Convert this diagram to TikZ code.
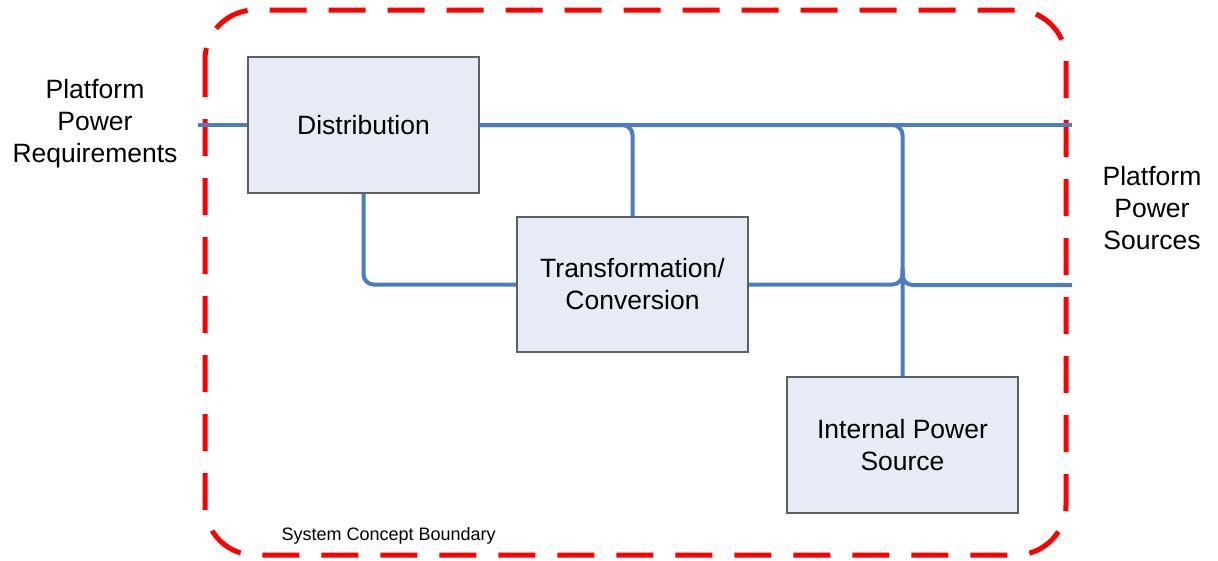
\documentclass[tikz,border=0pt]{standalone}
\usepackage{fontspec}
\setmainfont{Liberation Sans}
\begin{document}
\begin{tikzpicture}[x=1pt,y=-1pt,
  blk/.style={draw={rgb,255:red,95;green,95;blue,95}, line width=1.4pt, fill={rgb,255:red,230;green,235;blue,245},
    minimum width=231pt, minimum height=136pt, inner sep=0pt, align=center,
    font=\fontsize{26.5}{32}\selectfont},
  wire/.style={draw={rgb,255:red,74;green,125;blue,193}, line width=4pt},
  lbl/.style={align=center, font=\fontsize{26.5}{32}\selectfont},
  bnd/.style={draw={rgb,255:red,255;green,0;blue,0}, line width=5pt, dash pattern=on 37pt off 22pt, rounded corners=50pt}]
\useasboundingbox (0,0) rectangle (1218,560);
\draw[bnd] (205,10) rectangle (1066,555);
\node[blk] (dist) at (363.5,125) {Distribution};
\node[blk, minimum height=135pt] (trans) at (632.5,284.5) {Transformation/\\Conversion};
\node[blk] (ips) at (902.5,445) {Internal Power\\Source};
\coordinate (inL) at (198,125);
\coordinate (outT) at (1072,125);
\coordinate (outM) at (1072,285);
\draw[wire] (inL) -- (dist.west);
\draw[wire] (dist.east) -- (outT);
\draw[wire, rounded corners=10pt] (dist.east) -- (dist.east -| trans.north) -- (trans.north);
\draw[wire, rounded corners=10pt] (dist.east) -- (dist.east -| ips.north) -- (ips.north);
\draw[wire, rounded corners=10pt] (dist.south) |- (trans.west);
\draw[wire, rounded corners=10pt] (trans.east) -- (trans.east -| ips.north) -- ++(0,-16);
\draw[wire, rounded corners=10pt] (outM) -- (outM -| ips.north) -- ++(0,-16);
\node[lbl] (req) at (95,124) {Platform\\Power\\Requirements};
\node[lbl] (src) at (1152,208) {Platform\\Power\\Sources};
\node[font=\fontsize{18}{22}\selectfont, anchor=west] (bl) at (278,536) {System Concept Boundary};
\end{tikzpicture}
\end{document}
